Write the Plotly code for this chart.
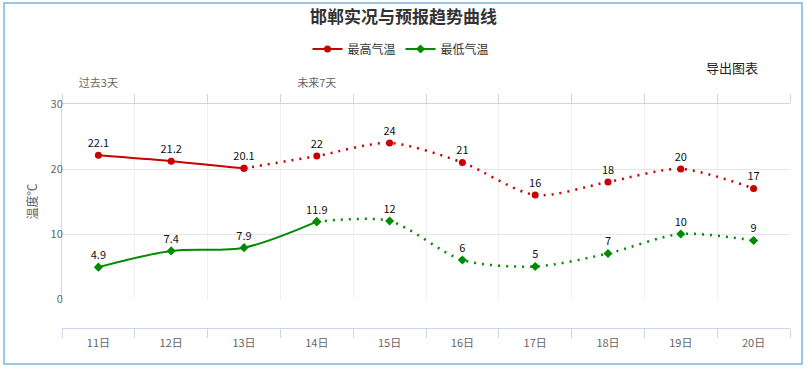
import plotly.graph_objects as go

days = ["11日", "12日", "13日", "14日", "15日", "16日", "17日", "18日", "19日", "20日"]
high = [22.1, 21.2, 20.1, 22, 24, 21, 16, 18, 20, 17]
low = [4.9, 7.4, 7.9, 11.9, 12, 6, 5, 7, 10, 9]
high_obs = 3   # number of observed (solid) points for the high series
low_obs = 4    # number of observed (solid) points for the low series
period_labels = ["过去3天", "未来7天"]
period_pos = [0, 3]
y_ticks = [0, 10, 20, 30]

FONT = "Noto Sans CJK SC, Microsoft YaHei, sans-serif"
RED = "#c80000"
GREEN = "#008c00"
AXIS = "#ccd6eb"


def fmt(v):
    return f"{v:g}"


fig = go.Figure()


def add_series(name, vals, nobs, color, symbol):
    # observed (solid) part
    fig.add_trace(go.Scatter(
        x=days[:nobs], y=vals[:nobs], name=name, legendgroup=name,
        mode="lines+markers+text", text=[fmt(v) for v in vals[:nobs]],
        textposition="top center", textfont=dict(size=11, color="#111", family=FONT),
        line=dict(color=color, width=2, shape="spline", smoothing=0.9),
        marker=dict(color=color, size=7, symbol=symbol),
        cliponaxis=False, hoverinfo="skip",
    ))
    # forecast (dotted) part
    fig.add_trace(go.Scatter(
        x=days[nobs - 1:], y=vals[nobs - 1:], name=name, legendgroup=name,
        showlegend=False, mode="lines+markers+text",
        text=[""] + [fmt(v) for v in vals[nobs:]],
        textposition="top center", textfont=dict(size=11, color="#111", family=FONT),
        line=dict(color=color, width=2.5, shape="spline", smoothing=0.8, dash="2px,6px"),
        marker=dict(color=color, size=7, symbol=symbol),
        cliponaxis=False, hoverinfo="skip",
    ))


add_series("最高气温", high, high_obs, RED, "circle")
add_series("最低气温", low, low_obs, GREEN, "diamond")

# invisible trace so the top period axis is drawn
fig.add_trace(go.Scatter(
    x=list(range(len(days))), y=high, xaxis="x2", mode="markers",
    marker=dict(opacity=0), showlegend=False, hoverinfo="skip",
))

W, H = 807, 368
L, R, T, B = 62, 17, 104, 40
plot_h = H - T - B  # 224
y0_frac = (328 - 299) / plot_h

fig.update_layout(
    width=W, height=H,
    margin=dict(l=L, r=R, t=T, b=B),
    paper_bgcolor="white", plot_bgcolor="white",
    font=dict(family=FONT, color="#666", size=11),
    title=dict(text="<b>邯郸实况与预报趋势曲线</b>", x=0.5, xref="container",
               y=1 - 17 / H, yref="container", yanchor="middle",
               font=dict(size=17, color="#333", family=FONT)),
    legend=dict(orientation="h", x=(401 - L) / 728, xanchor="center",
                y=(328 - 49) / plot_h, yanchor="middle",
                font=dict(size=12, color="#333", family=FONT),
                itemwidth=30, traceorder="normal", bgcolor="rgba(0,0,0,0)"),
    showlegend=True,
    xaxis=dict(
        type="category", categoryorder="array", categoryarray=days,
        range=[-0.5, len(days) - 0.5], anchor="free", position=0,
        tickson="boundaries", ticks="outside", ticklen=9, tickcolor=AXIS,
        showline=True, linecolor=AXIS, linewidth=1,
        showgrid=True, gridcolor="#f0f0f0", gridwidth=1,
        tickfont=dict(size=11, color="#666"), ticklabelstandoff=5,
        fixedrange=True,
    ),
    xaxis2=dict(
        overlaying="x", side="top", anchor="y",
        range=[-0.5, len(days) - 0.5],
        tickmode="array", tickvals=period_pos, ticktext=period_labels,
        ticks="outside", ticklen=12, tickcolor="rgba(0,0,0,0)",
        minor=dict(tickmode="linear", tick0=-0.5, dtick=1, ticks="outside",
                   ticklen=9, tickcolor=AXIS, showgrid=False),
        showline=True, linecolor=AXIS, linewidth=1, showgrid=False,
        zeroline=False, tickfont=dict(size=11, color="#666"),
        fixedrange=True,
    ),
    yaxis=dict(
        domain=[y0_frac, 1], range=[0, 30], tickvals=y_ticks,
        showgrid=True, gridcolor="#e6e6e6", zeroline=False,
        showline=True, linecolor=AXIS, linewidth=1,
        ticks="", tickfont=dict(size=11, color="#666"), ticklabelstandoff=-4,
        title=dict(text="温度℃", standoff=10, font=dict(size=12, color="#666")),
        fixedrange=True,
    ),
)

# outer chart border
fig.add_shape(type="rect", xref="paper", yref="paper",
              x0=(4 - L) / 728, x1=(802 - L) / 728,
              y0=(328 - 364) / plot_h, y1=(328 - 3) / plot_h,
              line=dict(color="#7cb2e6", width=1.5), layer="below")

fig.add_annotation(text="导出图表", xref="paper", yref="paper",
                   x=(732 - L) / 728, y=(328 - 68) / plot_h,
                   xanchor="center", yanchor="middle",
                   showarrow=False, font=dict(size=13, color="#222", family=FONT))

fig.write_html("out.html", config={"displayModeBar": False},
               post_script="document.body.style.margin='0';document.body.style.overflow='hidden';")
